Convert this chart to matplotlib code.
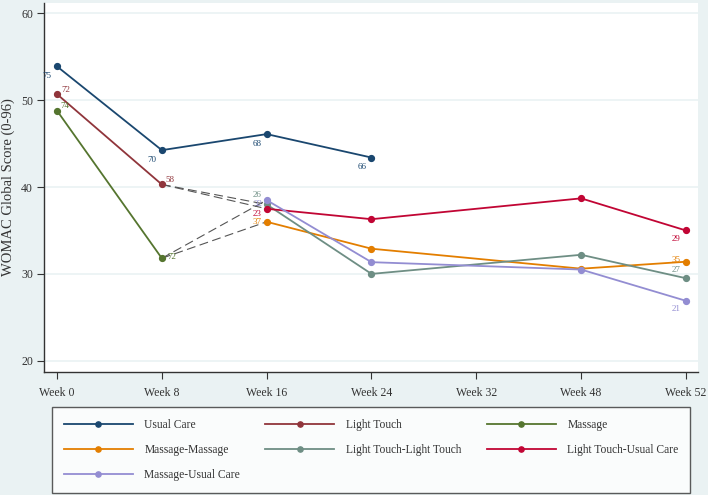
import matplotlib
matplotlib.use("Agg")
import matplotlib.pyplot as plt
import numpy as np

plt.rcParams['font.family'] = ['Liberation Serif', 'DejaVu Serif']

# data
weeks = ["Week 0", "Week 8", "Week 16", "Week 24", "Week 32", "Week 48", "Week 52"]
nan = np.nan

usual_care = [53.9, 44.25, 46.1, 43.4, nan, nan, nan]
light_touch = [50.7, 40.3, nan, nan, nan, nan, nan]
massage = [48.8, 31.8, nan, nan, nan, nan, nan]
massage_massage = [nan, nan, 36.0, 32.9, nan, 30.6, 31.4]
lt_lt = [nan, nan, 38.0, 30.0, nan, 32.2, 29.5]
lt_uc = [nan, nan, 37.5, 36.3, nan, 38.7, 35.0]
massage_uc = [nan, nan, 38.5, 31.35, nan, 30.5, 26.9]

# sample sizes shown next to points
n_usual_care = [75, 70, 68, 66, None, None, None]
n_light_touch = [72, 58, None, None, None, None, None]
n_massage = [74, 72, None, None, None, None, None]
n_massage_massage = [None, None, 37, None, None, None, 35]
n_lt_lt = [None, None, 26, None, None, None, 27]
n_lt_uc = [None, None, 23, None, None, None, 29]
n_massage_uc = [None, None, 32, None, None, None, 21]

series = [
    ("Usual Care", usual_care, n_usual_care, "#1a476f", (-7, -7)),
    ("Light Touch", light_touch, n_light_touch, "#90353b", (6, 3)),
    ("Massage", massage, n_massage, "#55752f", (6, 3)),
    ("Massage-Massage", massage_massage, n_massage_massage, "#e37e00", (-7, 0)),
    ("Light Touch-Light Touch", lt_lt, n_lt_lt, "#6e8e84", (-7, 7)),
    ("Light Touch-Usual Care", lt_uc, n_lt_uc, "#c10534", (-7, -4)),
    ("Massage-Usual Care", massage_uc, n_massage_uc, "#938dd2", (-7, -5)),
]
# tweaks where a label sits differently from the series default
label_offsets = {("Light Touch-Light Touch", 6): (-7, 6),
                 ("Light Touch-Usual Care", 6): (-7, -6),
                 ("Massage-Usual Care", 6): (-7, -6),
                 ("Massage-Usual Care", 2): (-6, -3),
                 ("Massage-Massage", 6): (-7, 1),
                 ("Massage", 1): (7, 1)}

fig = plt.figure(figsize=(7.08, 4.95), dpi=100)
fig.patch.set_facecolor("#eaf2f3")
ax = fig.add_axes((44/708, 1-372/495, (698-44)/708, (372-3)/495))
ax.set_facecolor("white")

x = np.arange(len(weeks))

# dashed transitions from week 8 groups into the week 16 groups
for start, ends in [(light_touch, [lt_lt, lt_uc]), (massage, [massage_massage, massage_uc])]:
    for end in ends:
        ax.plot([x[1], x[2]], [start[1], end[2]], color="#555555", lw=0.8,
                dashes=(8, 4), zorder=2)

lines = {}
for name, vals, ns, col, off in series:
    vals = np.array(vals, dtype=float)
    m = ~np.isnan(vals)
    lines[name], = ax.plot(x[m], vals[m], color=col, lw=1.3, marker="o", ms=4.2,
                           label=name, zorder=3)
    for i, n in enumerate(ns):
        if n is None:
            continue
        o = label_offsets.get((name, i), off)
        ax.annotate(str(n), (x[i], vals[i]), xytext=o, textcoords="offset points",
                    ha="center", va="center", fontsize=6.5, color=col, zorder=4)

ax.set_xlim(-0.124, 6.115)
ax.set_ylim(18.7, 61.2)
ax.set_yticks([20, 30, 40, 50, 60])
ax.set_xticks(x)
ax.set_xticklabels(weeks)
ax.grid(axis="y", color="#eaf2f3", lw=1.2)
ax.set_axisbelow(True)
for s in ["top", "right"]:
    ax.spines[s].set_visible(False)
for s in ["left", "bottom"]:
    ax.spines[s].set_color("#333333")
    ax.spines[s].set_linewidth(1.0)
ax.tick_params(axis="both", direction="out", length=5, color="#333333",
               labelsize=8.5, labelcolor="#333333", pad=3)
ax.tick_params(axis="x", pad=6)
ax.set_ylabel("WOMAC Global Score (0-96)", fontsize=10.5, color="#333333", labelpad=4)

# matplotlib fills legend columns first; order so rows read like the original
order = ["Usual Care", "Massage-Massage", "Massage-Usual Care",
         "Light Touch", "Light Touch-Light Touch",
         "Massage", "Light Touch-Usual Care"]
leg = fig.legend([lines[k] for k in order], order, ncol=3, loc="lower left",
                 bbox_to_anchor=(52/708, 1-493/495, (690-52)/708, (493-407)/495),
                 mode="expand", fontsize=8.3, handlelength=6, handletextpad=1.0,
                 labelspacing=1.15, borderaxespad=0, fancybox=False, markerscale=0.9,
                 frameon=True, edgecolor="#333333", borderpad=1.0)
leg.get_frame().set_linewidth(1.0)
for t in leg.get_texts():
    t.set_color("#333333")

fig.savefig("out.png", dpi=100, facecolor=fig.get_facecolor())
